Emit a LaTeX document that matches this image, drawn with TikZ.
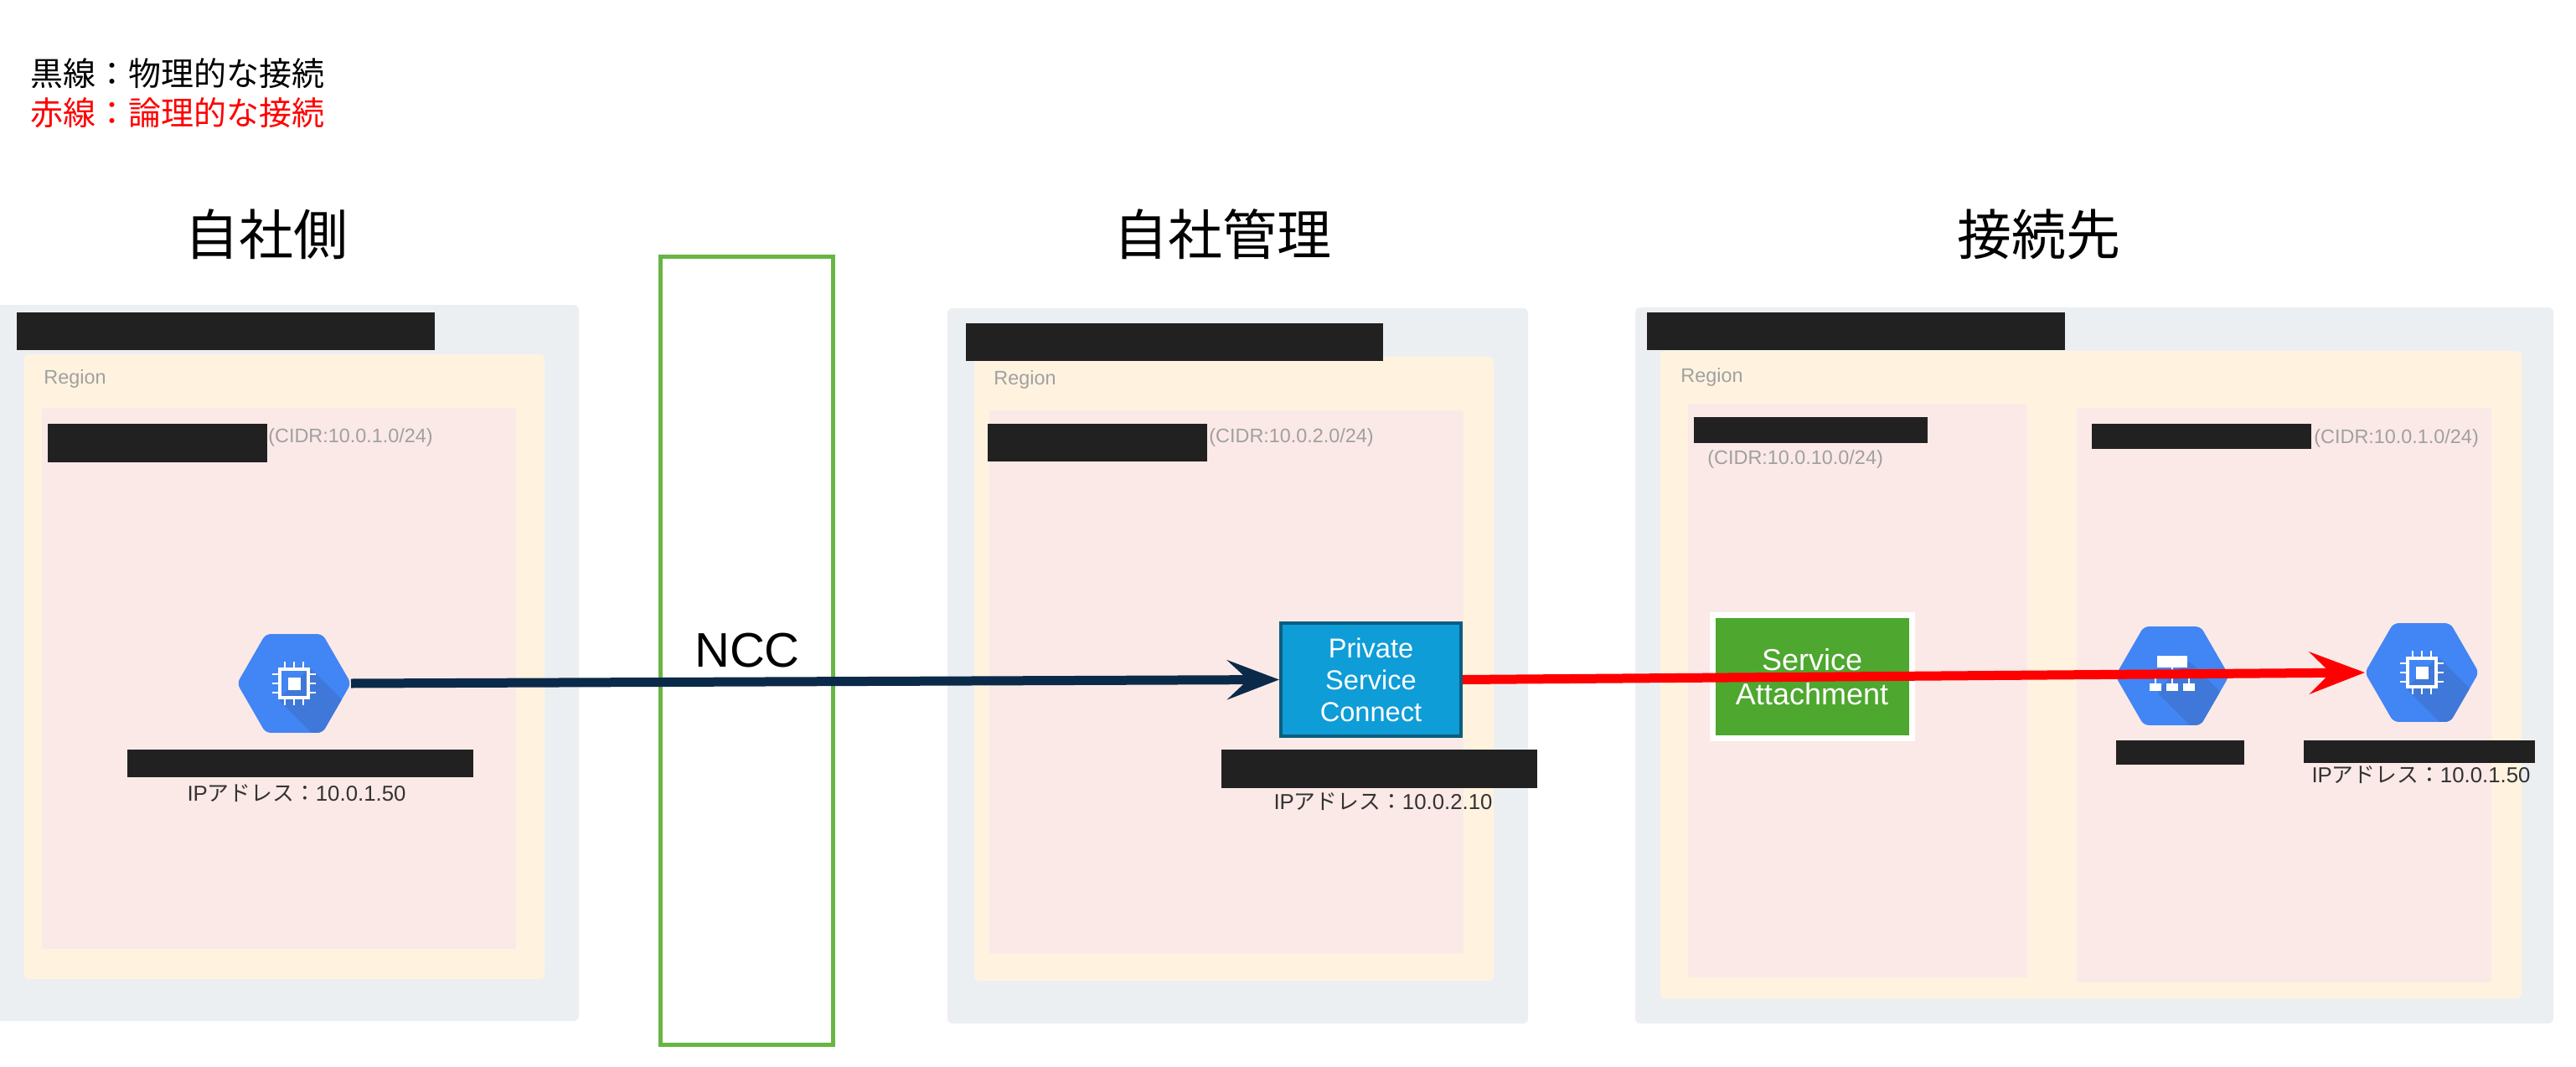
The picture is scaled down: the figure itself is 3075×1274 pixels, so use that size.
\documentclass[tikz,border=0pt]{standalone}
\usepackage{fontspec}
\setmainfont{Liberation Sans}
\newfontfamily\jpfont{Noto Sans CJK JP}
\usetikzlibrary{arrows.meta,shapes.geometric}
\definecolor{cloudgray}{HTML}{ECEFF2}
\definecolor{regionyellow}{HTML}{FFF3E0}
\definecolor{subnetpink}{HTML}{FBE9E7}
\definecolor{maskblack}{HTML}{212121}
\definecolor{hexblue}{HTML}{4285F4}
\definecolor{hexshade}{HTML}{3F78D8}
\definecolor{pscblue}{HTML}{0F9DD8}
\definecolor{pscedge}{HTML}{0B5E7E}
\definecolor{attachgreen}{HTML}{4EA72E}
\definecolor{nccgreen}{HTML}{68B544}
\definecolor{linknavy}{HTML}{0B2A4A}
\definecolor{softgray}{HTML}{A0A0A0}
\newcommand*{\zonebox}[5]{%
\fill[#1] (#2,#3) rectangle (#4,#5);
}
\newcommand*{\ipaddr}[1]{IP{\jpfont アドレス：}#1}
\newcommand*{\chipicon}[1]{%
\begin{scope}[shift={(#1.center)}]
\draw[white, line width = 1.7pt] (-17,-17) rectangle (17,17);
\fill[white] (-7.5,-7.5) rectangle (7.5,7.5);
\foreach \pin in {-11,0,11} {
	\draw[white, line width = 1.3pt] (\pin,-26) -- (\pin,-17) (\pin,17) -- (\pin,26);
	\draw[white, line width = 1.3pt] (-26,\pin) -- (-17,\pin) (17,\pin) -- (26,\pin);
}
\end{scope}
}
\newcommand*{\treeicon}[1]{%
\begin{scope}[shift={(#1.center)}]
\fill[white] (-18,-24) rectangle (18,-10);
\draw[white, line width = 1.3pt] (0,-10) -- (0,9) (-20,9) -- (-20,-1) -- (20,-1) -- (20,9);
\foreach \leaf in {-20,0,20} {
	\fill[white] (\leaf-7,9) rectangle (\leaf+7,18);
}
\end{scope}
}

\begin{document}
\begin{tikzpicture}[x=0.5pt, y=-0.5pt]
		\tikzset{
			basefont/.style = {inner sep = 0pt, text = black},
			legendtext/.style = {basefont, anchor = west, font = \fontsize{19.5}{23}\selectfont\jpfont},
			sidetitle/.style = {basefont, font = \fontsize{32.5}{36}\selectfont\jpfont},
			greytext/.style = {basefont, anchor = west, text = softgray, font = \fontsize{11.7}{14}\selectfont},
			iptext/.style = {basefont, text = black!80, font = \fontsize{12.9}{15}\selectfont},
			hexnode/.style = {regular polygon, regular polygon sides = 6,
				minimum size = 68pt, inner sep = 0pt, outer sep = 0pt, fill = hexblue, rounded corners = 3pt,
				path picture = {
					\begin{scope}[shift = {(path picture bounding box.center)}]
					\fill[hexshade] (-19,19) -- (19,-19) -- (99,61) -- (60,98) -- cycle;
					\end{scope}
				}},
			pscbox/.style = {basefont, text = white, align = center, draw = pscedge, fill = pscblue, line width = 2pt,
				minimum width = 107.5pt, minimum height = 67.5pt, font = \fontsize{16.3}{19}\selectfont},
			attachbox/.style = {basefont, text = white, align = center, draw = white, fill = attachgreen, line width = 3.5pt,
				minimum width = 119pt, minimum height = 73.5pt, font = \fontsize{18}{20.5}\selectfont},
			nccbox/.style = {draw = nccgreen, line width = 2.5pt},
			navylink/.style = {draw = linknavy, line width = 5.5pt, -{Stealth[length = 31pt, width = 23.5pt, inset = 12.5pt]}},
			redlink/.style = {draw = red, line width = 5.5pt, -{Stealth[length = 33pt, width = 25pt, inset = 12.5pt]}},
		};

		\useasboundingbox (0,0) rectangle (3075,1274);
		\fill[white] (0,0) rectangle (3075,1274);

		\node[legendtext] (legendblack) at (36,88) {黒線：物理的な接続};
		\node[legendtext, text = red] (legendred) at (36,135) {赤線：論理的な接続};
		\node[sidetitle] (titleown) at (318,280) {自社側};
		\node[sidetitle] (titlemanaged) at (1459,280) {自社管理};
		\node[sidetitle] (titlepeer) at (2434,280) {接続先};

		\zonebox{cloudgray, rounded corners = 3pt}{-6}{364}{691}{1219}
		\zonebox{regionyellow, rounded corners = 3pt}{29}{423}{650}{1169}
		\zonebox{subnetpink}{50}{487}{616}{1133}
		\zonebox{maskblack}{20}{373}{519}{418}
		\zonebox{maskblack}{57}{506}{319}{552}
		\zonebox{maskblack}{152}{895}{565}{928}
		\node[greytext] (regionown) at (52,452) {Region};
		\node[greytext] (cidrown) at (320,522) {(CIDR:10.0.1.0/24)};
		\node[iptext] (ipown) at (354,947) {\ipaddr{10.0.1.50}};

		\zonebox{cloudgray, rounded corners = 3pt}{1131}{368}{1824}{1222}
		\zonebox{regionyellow, rounded corners = 3pt}{1163}{426}{1783}{1171}
		\zonebox{subnetpink}{1181}{490}{1747}{1139}
		\zonebox{maskblack}{1153}{386}{1651}{431}
		\zonebox{maskblack}{1179}{506}{1441}{551}
		\zonebox{maskblack}{1458}{895}{1835}{941}
		\node[greytext] (regionmanaged) at (1186,453) {Region};
		\node[greytext] (cidrmanaged) at (1443,522) {(CIDR:10.0.2.0/24)};
		\node[iptext] (ipmanaged) at (1651,957) {\ipaddr{10.0.2.10}};

		\zonebox{cloudgray, rounded corners = 3pt}{1952}{367}{3048}{1222}
		\zonebox{regionyellow, rounded corners = 3pt}{1982}{419}{3010}{1192}
		\zonebox{subnetpink}{2015}{482}{2420}{1167}
		\zonebox{subnetpink}{2479}{487}{2974}{1173}
		\zonebox{maskblack}{1966}{373}{2465}{418}
		\zonebox{maskblack}{2022}{498}{2301}{529}
		\zonebox{maskblack}{2497}{506}{2759}{536}
		\zonebox{maskblack}{2526}{884}{2679}{913}
		\zonebox{maskblack}{2750}{884}{3026}{911}
		\node[greytext] (regionpeer) at (2006,450) {Region};
		\node[greytext] (cidrattach) at (2038,548) {(CIDR:10.0.10.0/24)};
		\node[greytext] (cidrpeer) at (2762,523) {(CIDR:10.0.1.0/24)};
		\node[iptext] (ippeer) at (2890,925) {\ipaddr{10.0.1.50}};

		\draw[nccbox] (788,306) rectangle (994,1247);
		\node[basefont, font = \fontsize{29}{33}\selectfont] (ncclabel) at (892,777) {NCC};

		\node[hexnode] (vmown) at (351,816) {};
		\chipicon{vmown}
		\node[pscbox] (psc) at (1636.5,811.5) {Private\\Service\\Connect};
		\node[attachbox] (attach) at (2163,808) {Service\\Attachment};
		\node[hexnode] (balancer) at (2593,807) {};
		\treeicon{balancer}
		\node[hexnode] (vmpeer) at (2891,803) {};
		\chipicon{vmpeer}

		\draw[navylink] (vmown.east) -- (psc.west);
		\draw[redlink] (psc.east) -- (vmpeer.west);
	\end{tikzpicture}
\end{document}
